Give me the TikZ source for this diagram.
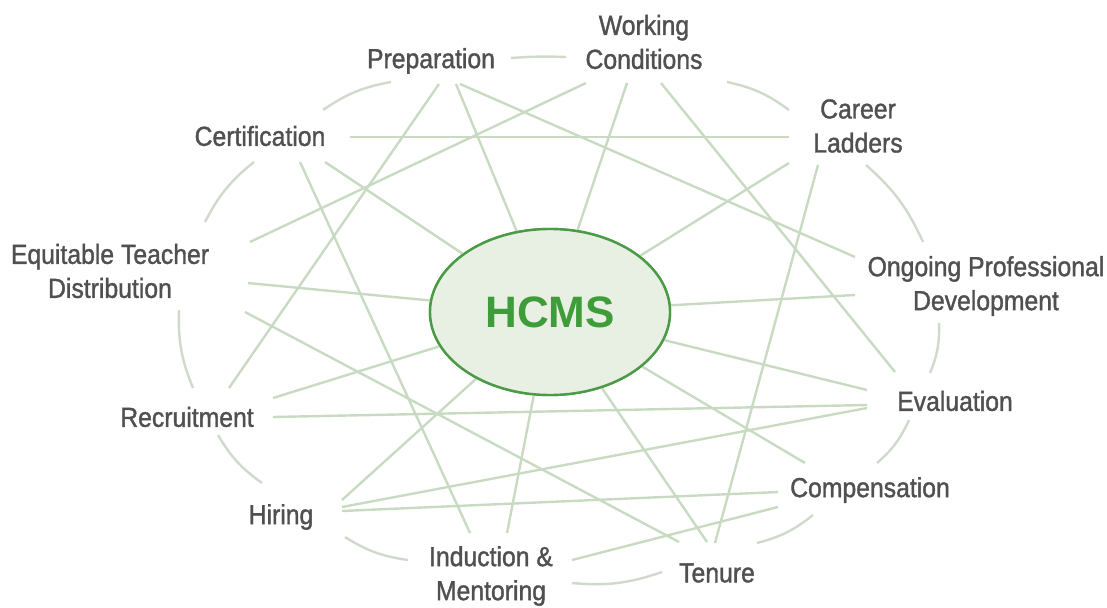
\documentclass[tikz,border=0pt]{standalone}
\usepackage{fontspec}
\setmainfont{Liberation Sans}
\newfontfamily\lblfont[FakeStretch=0.9,FakeBold=1.3]{Liberation Sans}
\usetikzlibrary{shapes.geometric}
\definecolor{linegreen}{HTML}{C8DBC2}
\definecolor{ringgray}{HTML}{CFDACB}
\definecolor{labelgray}{HTML}{505052}
\definecolor{hcmsfill}{HTML}{E8F0E3}
\definecolor{hcmsborder}{HTML}{4A9A46}
\definecolor{hcmstext}{HTML}{3E9C3A}
\begin{document}
\begin{tikzpicture}[x=1pt,y=-1pt,
  lbl/.style={text=labelgray, font=\lblfont\fontsize{27.5}{34}\selectfont, align=center, inner sep=0pt},
  link/.style={draw=linegreen, line width=2.4pt},
  ring/.style={draw=ringgray, line width=2.4pt, bend left=12},
  hub/.style={ellipse, draw=hcmsborder, fill=hcmsfill, line width=2.4pt,
    minimum width=240pt, minimum height=166pt, text=hcmstext,
    font=\bfseries\fontsize{44}{44}\selectfont}]
\useasboundingbox (0,0) rectangle (1107,607);

% nodes
\node[hub] (hcms) at (550,312) {HCMS};
\node[lbl] (prep) at (431,61) {Preparation};
\node[lbl] (wc) at (644,42) {Working\\Conditions};
\node[lbl] (cl) at (858,126) {Career\\Ladders};
\node[lbl] (cert) at (260,136) {Certification};
\node[lbl] (etd) at (110,271) {Equitable Teacher\\Distribution};
\node[lbl] (opd) at (986,286) {Ongoing Professional\\Development};
\node[lbl] (rec) at (187,417) {Recruitment};
\node[lbl] (eval) at (955,401) {Evaluation};
\node[lbl] (hir) at (281,517) {Hiring};
\node[lbl] (comp) at (870,490) {Compensation};
\node[lbl] (im) at (491,576) {Induction \&\\Mentoring};
\node[lbl] (ten) at (717,573) {Tenure};

% connector end points
\coordinate (p1) at (439,84);  \coordinate (p2) at (456,84);  \coordinate (p3) at (460,84);
\coordinate (pL) at (391,82);  \coordinate (pR) at (511,58);
\coordinate (w1) at (586,83);  \coordinate (w2) at (627,83);  \coordinate (w3) at (661,83);
\coordinate (wL) at (566,57);  \coordinate (wR) at (727,82);
\coordinate (c1) at (789,137); \coordinate (c2) at (789,163); \coordinate (c3) at (818,165);
\coordinate (cU) at (789,110); \coordinate (cD) at (866,165);
\coordinate (ce1) at (350,137); \coordinate (ce2) at (300,162); \coordinate (ce3) at (325,162);
\coordinate (ceU) at (323,110); \coordinate (ceD) at (254,162);
\coordinate (e1) at (250,242); \coordinate (e2) at (248,283); \coordinate (e3) at (245,312);
\coordinate (eU) at (205,222); \coordinate (eD) at (179,310);
\coordinate (o1) at (855,257); \coordinate (o2) at (855,295);
\coordinate (oU) at (923,242); \coordinate (oD) at (939,323);
\coordinate (r1) at (229,388); \coordinate (r2) at (273,398); \coordinate (r3) at (273,417);
\coordinate (rU) at (193,388); \coordinate (rD) at (218,435);
\coordinate (ev1) at (895,372); \coordinate (ev2) at (867,390); \coordinate (ev3) at (867,405); \coordinate (ev4) at (867,408);
\coordinate (evU) at (930,373); \coordinate (evD) at (909,420);
\coordinate (h1) at (342,500); \coordinate (h2) at (342,507); \coordinate (h3) at (342,511);
\coordinate (hU) at (262,483); \coordinate (hD) at (345,537);
\coordinate (i1) at (470,533); \coordinate (i2) at (507,533); \coordinate (i3) at (572,560);
\coordinate (iL) at (408,560); \coordinate (iR) at (572,583);
\coordinate (co1) at (805,463); \coordinate (co2) at (778,492); \coordinate (co3) at (778,507);
\coordinate (coU) at (877,463); \coordinate (coD) at (813,515);
\coordinate (t1) at (715,543); \coordinate (t2) at (679,542); \coordinate (t3) at (707,542);
\coordinate (tL) at (662,572); \coordinate (tR) at (757,543);

% straight links
\draw[link] (p1) -- (r1);
\draw[link] (p2) -- (hcms);
\draw[link] (p3) -- (o1);
\draw[link] (w1) -- (e1);
\draw[link] (w2) -- (hcms);
\draw[link] (w3) -- (ev1);
\draw[link] (ce1) -- (c1);
\draw[link] (ce2) -- (i1);
\draw[link] (ce3) -- (hcms);
\draw[link] (c2) -- (hcms);
\draw[link] (c3) -- (t1);
\draw[link] (e2) -- (hcms);
\draw[link] (e3) -- (t2);
\draw[link] (o2) -- (hcms);
\draw[link] (r2) -- (hcms);
\draw[link] (r3) -- (ev3);
\draw[link] (h1) -- (hcms);
\draw[link] (h2) -- (ev4);
\draw[link] (h3) -- (co2);
\draw[link] (i2) -- (hcms);
\draw[link] (i3) -- (co3);
\draw[link] (hcms) -- (ev2);
\draw[link] (hcms) -- (co1);
\draw[link] (hcms) -- (t3);

% ring arcs
\draw[ring, bend left=3] (pR) to (wL);
\draw[ring] (wR) to (cU);
\draw[ring] (cD) to (oU);
\draw[ring] (oD) to (evU);
\draw[ring] (evD) to (coU);
\draw[ring] (coD) to (tR);
\draw[ring] (tL) to (iR);
\draw[ring] (iL) to (hD);
\draw[ring] (hU) to (rD);
\draw[ring] (rU) to (eD);
\draw[ring] (eU) to (ceD);
\draw[ring] (ceU) to (pL);

% hub on top
\node[hub] at (hcms) {HCMS};
\end{tikzpicture}
\end{document}
